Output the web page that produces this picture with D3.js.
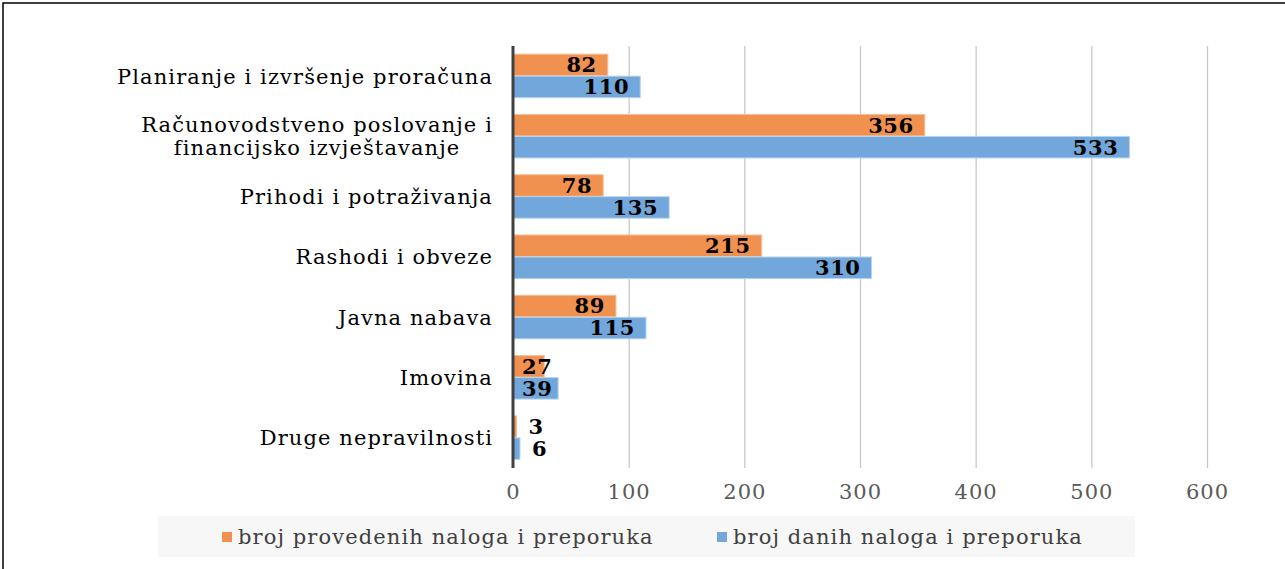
<!DOCTYPE html>
<html>
<head>
<meta charset="utf-8">
<script src="https://cdn.jsdelivr.net/npm/d3@7"></script>
<style>
  body { margin: 0; background: #fff; }
  svg { display: block; font-family: "DejaVu Serif", "Liberation Serif", serif; }
</style>
</head>
<body>
<div id="chart"></div>
<script>
const categories = [
  "Planiranje i izvršenje proračuna",
  "Računovodstveno poslovanje i\nfinancijsko izvještavanje",
  "Prihodi i potraživanja",
  "Rashodi i obveze",
  "Javna nabava",
  "Imovina",
  "Druge nepravilnosti"
]
const provedeni = [82, 356, 78, 215, 89, 27, 3]
const dani = [110, 533, 135, 310, 115, 39, 6]
const seriesNames = ["broj provedenih naloga i preporuka", "broj danih naloga i preporuka"]
const xTicks = [0, 100, 200, 300, 400, 500, 600]

const W = 1285, H = 569
const colors = ["#F0914F", "#71A7DA"]
const strokes = ["#F6C09B", "#B5D2EE"]
const fontSize = "21px"
const spacing = "1.1px"

const svg = d3.select("#chart").append("svg")
  .attr("width", W)
  .attr("height", H)

// frame
svg.append("rect")
  .attr("x", 3).attr("y", 3)
  .attr("width", W + 10).attr("height", H + 10)
  .attr("fill", "none")
  .attr("stroke", "#000")
  .attr("stroke-width", 1.5)

const plot = { left: 513, right: 1207, top: 46, bottom: 468 }

const x = d3.scaleLinear()
  .domain([0, 600])
  .range([plot.left, plot.right])

const y = d3.scaleBand()
  .domain(categories)
  .range([plot.top, plot.bottom])
  .paddingInner(0.27)
  .paddingOuter(0.135)

const ySub = d3.scaleBand()
  .domain([0, 1])
  .range([0, y.bandwidth()])

// gridlines
const grid = svg.append("g")
  .attr("transform", `translate(0,${plot.bottom})`)
  .call(d3.axisBottom(x).tickValues(xTicks.slice(1)).tickSize(-(plot.bottom - plot.top)).tickFormat(""))
grid.select(".domain").remove()
grid.selectAll("line").attr("stroke", "#c9c9c9").attr("stroke-width", 1.3)

// tick labels
const xAxis = svg.append("g")
  .attr("transform", `translate(0,${plot.bottom})`)
  .call(d3.axisBottom(x).tickValues(xTicks).tickSize(0).tickPadding(16))
xAxis.select(".domain").remove()
xAxis.selectAll("text")
  .attr("font-family", "DejaVu Serif")
  .attr("font-size", fontSize)
  .attr("letter-spacing", "1px")
  .attr("fill", "#595959")

// bars
const rows = categories.map((c, i) => ({ cat: c, vals: [provedeni[i], dani[i]] }))

const groups = svg.selectAll("g.cat")
  .data(rows)
  .enter().append("g")
  .attr("class", "cat")
  .attr("transform", d => `translate(0,${y(d.cat)})`)

groups.selectAll("rect")
  .data(d => d.vals.map((v, s) => ({ v, s })))
  .enter().append("rect")
  .attr("x", x(0))
  .attr("y", d => ySub(d.s))
  .attr("width", d => x(d.v) - x(0))
  .attr("height", ySub.bandwidth() - 0.5)
  .attr("fill", d => colors[d.s])
  .attr("stroke", d => strokes[d.s])
  .attr("stroke-width", 1)

// data labels: inside end, pushed right when the bar is too short
groups.selectAll("text.val")
  .data(d => d.vals.map((v, s) => ({ v, s })))
  .enter().append("text")
  .attr("class", "val")
  .attr("y", d => ySub(d.s) + ySub.bandwidth() / 2)
  .attr("dy", "0.34em")
  .attr("font-weight", "bold")
  .attr("font-size", "21px")
  .attr("letter-spacing", "0.6px")
  .attr("fill", "#000")
  .text(d => d.v)
  .each(function (d) {
    const w = this.getComputedTextLength()
    const end = x(d.v)
    let start
    if (d.v < 10) start = end + 12
    else start = Math.max(x(0) + 9, end - 11 - w)
    d3.select(this).attr("x", start)
  })

// axis line at zero
svg.append("line")
  .attr("x1", x(0)).attr("x2", x(0))
  .attr("y1", plot.top).attr("y2", plot.bottom)
  .attr("stroke", "#404040")
  .attr("stroke-width", 3)

// category labels
const yAxis = svg.append("g")
  .attr("transform", `translate(${plot.left - 20},0)`)
  .call(d3.axisLeft(y).tickSize(0).tickFormat(""))
yAxis.select(".domain").remove()

yAxis.selectAll(".tick").each(function (cat) {
  const lines = cat.split("\n")
  const txt = d3.select(this).append("text")
    .attr("font-family", "DejaVu Serif")
    .attr("font-size", fontSize)
    .attr("letter-spacing", spacing)
    .attr("fill", "#000")
  const lh = 23
  const tspans = lines.map((l, i) => txt.append("tspan")
    .attr("x", 0)
    .attr("y", (i - (lines.length - 1) / 2) * lh)
    .attr("dy", "0.35em")
    .text(l))
  // right-align the block, center the lines within it
  const maxW = d3.max(tspans, t => t.node().getComputedTextLength())
  tspans.forEach(t => t.attr("x", -maxW / 2).attr("text-anchor", "middle"))
})

// legend
const lg = svg.append("g")
lg.append("rect")
  .attr("x", 158).attr("y", 516)
  .attr("width", 977).attr("height", 41)
  .attr("fill", "#f7f7f7")

const legendX = [222, 717]
seriesNames.forEach((name, i) => {
  lg.append("rect")
    .attr("x", legendX[i]).attr("y", 532)
    .attr("width", 10).attr("height", 10)
    .attr("fill", colors[i])
  lg.append("text")
    .attr("x", legendX[i] + 16).attr("y", 537)
    .attr("dy", "0.35em")
    .attr("font-size", fontSize)
    .attr("letter-spacing", spacing)
    .attr("fill", "#404040")
    .text(name)
})
</script>
</body>
</html>
